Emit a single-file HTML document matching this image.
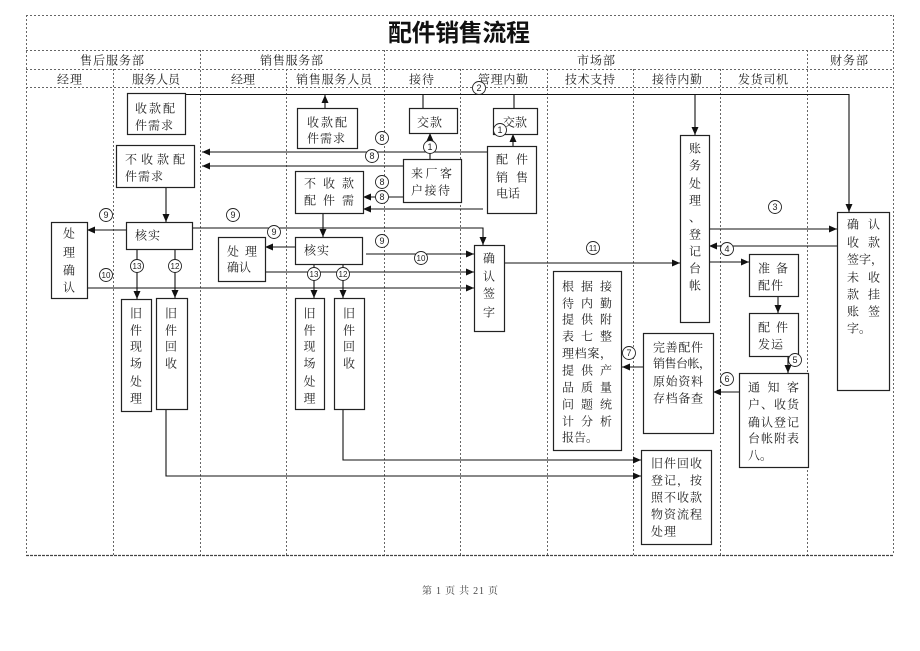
<!DOCTYPE html>
<html>
<head>
<meta charset="utf-8">
<style>
html,body{margin:0;padding:0;background:#fff;}
body{width:920px;height:651px;overflow:hidden;}
svg{display:block;}
.t{font-family:"Liberation Serif","Noto Serif CJK SC",serif;font-size:12px;fill:#222;}
.h{font-family:"Liberation Serif","Noto Serif CJK SC",serif;font-size:12px;fill:#222;}
.ttl{font-family:"Liberation Sans","Noto Sans CJK SC",sans-serif;font-size:24px;font-weight:bold;fill:#111;}
.n{font-family:"Liberation Sans",sans-serif;font-size:9px;fill:#222;text-anchor:middle;}
.n2{font-family:"Liberation Sans",sans-serif;font-size:8px;fill:#222;text-anchor:middle;}
.vc{font-family:"Liberation Serif","Noto Serif CJK SC",serif;font-size:12px;fill:#222;text-anchor:middle;}
.ft{font-family:"Liberation Serif","Noto Serif CJK SC",serif;font-size:10px;fill:#444;}
</style>
</head>
<body>
<svg width="920" height="651" viewBox="0 0 920 651" xmlns="http://www.w3.org/2000/svg">
<defs>
<marker id="a" markerWidth="8" markerHeight="7" refX="8" refY="3.5" orient="auto" markerUnits="userSpaceOnUse">
<path d="M0,0 L8,3.5 L0,7 z" fill="#111"/>
</marker>
</defs>

<!-- frame and grid -->
<g stroke="#666" stroke-width="1" stroke-dasharray="2,2" fill="none">
<line x1="26" y1="15.5" x2="893" y2="15.5"/>
<line x1="26.5" y1="15" x2="26.5" y2="555"/>
<line x1="893.5" y1="15" x2="893.5" y2="555"/>
<line x1="26" y1="50.5" x2="893" y2="50.5"/>
<line x1="26" y1="69.5" x2="893" y2="69.5"/>
<line x1="26" y1="87.5" x2="893" y2="87.5"/>
<line x1="200.5" y1="50" x2="200.5" y2="555"/>
<line x1="384.5" y1="50" x2="384.5" y2="555"/>
<line x1="807.5" y1="50" x2="807.5" y2="555"/>
<line x1="113.5" y1="69" x2="113.5" y2="555"/>
<line x1="286.5" y1="69" x2="286.5" y2="555"/>
<line x1="460.5" y1="69" x2="460.5" y2="555"/>
<line x1="547.5" y1="69" x2="547.5" y2="555"/>
<line x1="633.5" y1="69" x2="633.5" y2="555"/>
<line x1="720.5" y1="69" x2="720.5" y2="555"/>
</g>
<line x1="26" y1="555.5" x2="894" y2="555.5" stroke="#444" stroke-width="1.2" stroke-dasharray="3,1"/>

<!-- headers -->
<text class="ttl" x="388" y="41" textLength="142" lengthAdjust="spacing">配件销售流程</text>
<text class="h" x="80" y="64.5" textLength="64" lengthAdjust="spacing">售后服务部</text>
<text class="h" x="260" y="64.5" textLength="63" lengthAdjust="spacing">销售服务部</text>
<text class="h" x="577" y="64.5" textLength="38" lengthAdjust="spacing">市场部</text>
<text class="h" x="830" y="64.5" textLength="38" lengthAdjust="spacing">财务部</text>

<text class="h" x="57" y="83.5" textLength="25" lengthAdjust="spacing">经理</text>
<text class="h" x="132" y="83.5" textLength="48" lengthAdjust="spacing">服务人员</text>
<text class="h" x="231" y="83.5" textLength="24" lengthAdjust="spacing">经理</text>
<text class="h" x="296" y="83.5" textLength="76" lengthAdjust="spacing">销售服务人员</text>
<text class="h" x="409" y="83.5" textLength="25" lengthAdjust="spacing">接待</text>
<text class="h" x="478" y="83.5" textLength="50" lengthAdjust="spacing">管理内勤</text>
<text class="h" x="565" y="83.5" textLength="50" lengthAdjust="spacing">技术支持</text>
<text class="h" x="652" y="83.5" textLength="50" lengthAdjust="spacing">接待内勤</text>
<text class="h" x="738" y="83.5" textLength="50" lengthAdjust="spacing">发货司机</text>

<!-- connectors -->
<g stroke="#111" stroke-width="1.1" fill="none">
<polyline points="185,94.5 849,94.5 849,212" marker-end="url(#a)"/>
<line x1="325" y1="108" x2="325" y2="95" marker-end="url(#a)"/>
<line x1="423" y1="94" x2="423" y2="108"/>
<line x1="514" y1="94" x2="514" y2="108"/>
<line x1="695" y1="95" x2="695" y2="135" marker-end="url(#a)"/>
<line x1="430" y1="159" x2="430" y2="133" marker-end="url(#a)"/>
<line x1="513" y1="146" x2="513" y2="134" marker-end="url(#a)"/>
<line x1="487" y1="152" x2="202" y2="152" marker-end="url(#a)"/>
<line x1="403" y1="166" x2="202" y2="166" marker-end="url(#a)"/>
<line x1="403" y1="197" x2="363" y2="197" marker-end="url(#a)"/>
<line x1="483" y1="209" x2="363" y2="209" marker-end="url(#a)"/>
<line x1="166" y1="187" x2="166" y2="222" marker-end="url(#a)"/>
<line x1="323" y1="213" x2="323" y2="237" marker-end="url(#a)"/>
<line x1="126" y1="230" x2="87" y2="230" marker-end="url(#a)"/>
<polyline points="192,228 483,228 483,245" marker-end="url(#a)"/>
<line x1="295" y1="247" x2="265" y2="247" marker-end="url(#a)"/>
<line x1="366" y1="254" x2="474" y2="254" marker-end="url(#a)"/>
<line x1="265" y1="272" x2="474" y2="272" marker-end="url(#a)"/>
<line x1="87" y1="288" x2="474" y2="288" marker-end="url(#a)"/>
<line x1="137" y1="249" x2="137" y2="299" marker-end="url(#a)"/>
<line x1="175" y1="249" x2="175" y2="298" marker-end="url(#a)"/>
<line x1="314" y1="264" x2="314" y2="298" marker-end="url(#a)"/>
<line x1="343" y1="264" x2="343" y2="298" marker-end="url(#a)"/>
<polyline points="343,409 343,460 641,460" marker-end="url(#a)"/>
<polyline points="166,409 166,476 641,476" marker-end="url(#a)"/>
<line x1="504" y1="263" x2="680" y2="263" marker-end="url(#a)"/>
<line x1="709" y1="229" x2="837" y2="229" marker-end="url(#a)"/>
<line x1="837" y1="246" x2="709" y2="246" marker-end="url(#a)"/>
<line x1="709" y1="262" x2="749" y2="262" marker-end="url(#a)"/>
<line x1="778" y1="296" x2="778" y2="313" marker-end="url(#a)"/>
<line x1="788" y1="356" x2="788" y2="373" marker-end="url(#a)"/>
<line x1="739" y1="392" x2="713" y2="392" marker-end="url(#a)"/>
<line x1="643" y1="367" x2="622" y2="367" marker-end="url(#a)"/>
</g>

<!-- boxes -->
<g stroke="#222" stroke-width="1.2" fill="#fff">
<rect x="127.5" y="93.5" width="58" height="41"/>
<rect x="116.5" y="145.5" width="78" height="42"/>
<rect x="297.5" y="108.5" width="60" height="40"/>
<rect x="295.5" y="171.5" width="68" height="42"/>
<rect x="409.5" y="108.5" width="48" height="25"/>
<rect x="493.5" y="108.5" width="44" height="26"/>
<rect x="403.5" y="159.5" width="58" height="43"/>
<rect x="487.5" y="146.5" width="49" height="67"/>
<rect x="126.5" y="222.5" width="66" height="27"/>
<rect x="51.5" y="222.5" width="36" height="76"/>
<rect x="121.5" y="299.5" width="30" height="112"/>
<rect x="156.5" y="298.5" width="31" height="111"/>
<rect x="218.5" y="237.5" width="47" height="44"/>
<rect x="295.5" y="237.5" width="67" height="27"/>
<rect x="295.5" y="298.5" width="29" height="111"/>
<rect x="334.5" y="298.5" width="30" height="111"/>
<rect x="474.5" y="245.5" width="30" height="86"/>
<rect x="680.5" y="135.5" width="29" height="187"/>
<rect x="837.5" y="212.5" width="52" height="178"/>
<rect x="749.5" y="254.5" width="49" height="42"/>
<rect x="749.5" y="313.5" width="49" height="43"/>
<rect x="739.5" y="373.5" width="69" height="94"/>
<rect x="643.5" y="333.5" width="70" height="100"/>
<rect x="553.5" y="271.5" width="68" height="179"/>
<rect x="641.5" y="450.5" width="70" height="94"/>
</g>

<!-- box text -->
<text class="t" x="135" y="112.5" textLength="40" lengthAdjust="spacing">收款配</text>
<text class="t" x="135" y="129.5" textLength="38" lengthAdjust="spacing">件需求</text>
<text class="t" x="125" y="163.5" textLength="60" lengthAdjust="spacing">不收款配</text>
<text class="t" x="125" y="180.5" textLength="38" lengthAdjust="spacing">件需求</text>
<text class="t" x="307" y="126.5" textLength="40" lengthAdjust="spacing">收款配</text>
<text class="t" x="307" y="142.5" textLength="38" lengthAdjust="spacing">件需求</text>
<text class="t" x="304" y="187.5" textLength="50" lengthAdjust="spacing">不收款</text>
<text class="t" x="304" y="204.5" textLength="50" lengthAdjust="spacing">配件需</text>
<text class="t" x="417" y="126.5" textLength="25" lengthAdjust="spacing">交款</text>
<text class="t" x="503" y="126.5" textLength="24" lengthAdjust="spacing">交款</text>
<text class="t" x="411" y="177.5" textLength="41" lengthAdjust="spacing">来厂客</text>
<text class="t" x="411" y="194.5" textLength="39" lengthAdjust="spacing">户接待</text>
<text class="t" x="496" y="163.5" textLength="32" lengthAdjust="spacing">配件</text>
<text class="t" x="496" y="181.5" textLength="32" lengthAdjust="spacing">销售</text>
<text class="t" x="496" y="197.5" textLength="24" lengthAdjust="spacing">电话</text>
<text class="t" x="135" y="239.5" textLength="25" lengthAdjust="spacing">核实</text>
<text class="t" x="304" y="254.5" textLength="25" lengthAdjust="spacing">核实</text>
<text class="t" x="227" y="255.5" textLength="30" lengthAdjust="spacing">处理</text>
<text class="t" x="227" y="271.5" textLength="24" lengthAdjust="spacing">确认</text>

<!-- vertical texts -->
<g class="vc">
<text x="69" y="237.5">处</text><text x="69" y="256.5">理</text><text x="69" y="274.5">确</text><text x="69" y="291.5">认</text>
<text x="136" y="317.5">旧</text><text x="136" y="334.5">件</text><text x="136" y="350.5">现</text><text x="136" y="367.5">场</text><text x="136" y="385.5">处</text><text x="136" y="402.5">理</text>
<text x="171" y="317.5">旧</text><text x="171" y="334.5">件</text><text x="171" y="350.5">回</text><text x="171" y="367.5">收</text>
<text x="309.5" y="317.5">旧</text><text x="309.5" y="334.5">件</text><text x="309.5" y="350.5">现</text><text x="309.5" y="367.5">场</text><text x="309.5" y="385.5">处</text><text x="309.5" y="402.5">理</text>
<text x="349" y="317.5">旧</text><text x="349" y="334.5">件</text><text x="349" y="350.5">回</text><text x="349" y="367.5">收</text>
<text x="489" y="262.5">确</text><text x="489" y="280.5">认</text><text x="489" y="297.5">签</text><text x="489" y="316.5">字</text>
<text x="695" y="152.5">账</text><text x="695" y="169.5">务</text><text x="695" y="187.5">处</text><text x="695" y="204.5">理</text><text x="695" y="221.5">、</text><text x="695" y="238.5">登</text><text x="695" y="255.5">记</text><text x="695" y="272.5">台</text><text x="695" y="289.5">帐</text>
</g>

<text class="t" x="847" y="228.5" textLength="33" lengthAdjust="spacing">确认</text>
<text class="t" x="847" y="246.5" textLength="33" lengthAdjust="spacing">收款</text>
<text class="t" x="847" y="263.5">签字，</text>
<text class="t" x="847" y="281.5" textLength="33" lengthAdjust="spacing">未收</text>
<text class="t" x="847" y="298.5" textLength="33" lengthAdjust="spacing">款挂</text>
<text class="t" x="847" y="315.5" textLength="33" lengthAdjust="spacing">账签</text>
<text class="t" x="847" y="332.5">字。</text>

<text class="t" x="758" y="272.5" textLength="30" lengthAdjust="spacing">准备</text>
<text class="t" x="758" y="289.5" textLength="25" lengthAdjust="spacing">配件</text>
<text class="t" x="758" y="331.5" textLength="30" lengthAdjust="spacing">配件</text>
<text class="t" x="758" y="348.5" textLength="25" lengthAdjust="spacing">发运</text>

<text class="t" x="748" y="391.5" textLength="51" lengthAdjust="spacing">通知客</text>
<text class="t" x="748" y="408.5" textLength="51" lengthAdjust="spacing">户、收货</text>
<text class="t" x="748" y="426.5" textLength="51" lengthAdjust="spacing">确认登记</text>
<text class="t" x="748" y="442.5" textLength="51" lengthAdjust="spacing">台帐附表</text>
<text class="t" x="748" y="459.5">八。</text>

<text class="t" x="653" y="351.5" textLength="50" lengthAdjust="spacing">完善配件</text>
<text class="t" x="653" y="367.5" textLength="58" lengthAdjust="spacing">销售台帐，</text>
<text class="t" x="653" y="385.5" textLength="50" lengthAdjust="spacing">原始资料</text>
<text class="t" x="653" y="402.5" textLength="50" lengthAdjust="spacing">存档备查</text>

<text class="t" x="562" y="290.5" textLength="50" lengthAdjust="spacing">根据接</text>
<text class="t" x="562" y="307.5" textLength="50" lengthAdjust="spacing">待内勤</text>
<text class="t" x="562" y="323.5" textLength="50" lengthAdjust="spacing">提供附</text>
<text class="t" x="562" y="340.5" textLength="50" lengthAdjust="spacing">表七整</text>
<text class="t" x="562" y="357.5" textLength="50" lengthAdjust="spacing">理档案，</text>
<text class="t" x="562" y="374.5" textLength="50" lengthAdjust="spacing">提供产</text>
<text class="t" x="562" y="391.5" textLength="50" lengthAdjust="spacing">品质量</text>
<text class="t" x="562" y="408.5" textLength="50" lengthAdjust="spacing">问题统</text>
<text class="t" x="562" y="425.5" textLength="50" lengthAdjust="spacing">计分析</text>
<text class="t" x="562" y="441.5">报告。</text>

<text class="t" x="651" y="467.5" textLength="51" lengthAdjust="spacing">旧件回收</text>
<text class="t" x="651" y="484.5" textLength="51" lengthAdjust="spacing">登记，按</text>
<text class="t" x="651" y="501.5" textLength="51" lengthAdjust="spacing">照不收款</text>
<text class="t" x="651" y="518.5" textLength="51" lengthAdjust="spacing">物资流程</text>
<text class="t" x="651" y="535.5" textLength="25" lengthAdjust="spacing">处理</text>

<!-- circled numbers -->
<g stroke="#222" stroke-width="0.9" fill="#fff">
<circle cx="430" cy="147" r="6.5"/>
<circle cx="500" cy="130" r="6.5"/>
<circle cx="479" cy="88" r="6.5"/>
<circle cx="775" cy="207" r="6.5"/>
<circle cx="727" cy="249" r="6.5"/>
<circle cx="795" cy="360" r="6.5"/>
<circle cx="727" cy="379" r="6.5"/>
<circle cx="629" cy="353" r="6.5"/>
<circle cx="382" cy="138" r="6.5"/>
<circle cx="372" cy="156" r="6.5"/>
<circle cx="382" cy="182" r="6.5"/>
<circle cx="382" cy="197" r="6.5"/>
<circle cx="106" cy="215" r="6.5"/>
<circle cx="233" cy="215" r="6.5"/>
<circle cx="274" cy="232" r="6.5"/>
<circle cx="382" cy="241" r="6.5"/>
<circle cx="106" cy="275" r="6.5"/>
<circle cx="421" cy="258" r="6.5"/>
<circle cx="593" cy="248" r="6.5"/>
<circle cx="137" cy="266" r="6.5"/>
<circle cx="175" cy="266" r="6.5"/>
<circle cx="314" cy="274" r="6.5"/>
<circle cx="343" cy="274" r="6.5"/>
</g>
<text class="n" x="430" y="150.2">1</text>
<text class="n" x="500" y="133.2">1</text>
<text class="n" x="479" y="91.2">2</text>
<text class="n" x="775" y="210.2">3</text>
<text class="n" x="727" y="252.2">4</text>
<text class="n" x="795" y="363.2">5</text>
<text class="n" x="727" y="382.2">6</text>
<text class="n" x="629" y="356.2">7</text>
<text class="n" x="382" y="141.2">8</text>
<text class="n" x="372" y="159.2">8</text>
<text class="n" x="382" y="185.2">8</text>
<text class="n" x="382" y="200.2">8</text>
<text class="n" x="106" y="218.2">9</text>
<text class="n" x="233" y="218.2">9</text>
<text class="n" x="274" y="235.2">9</text>
<text class="n" x="382" y="244.2">9</text>
<text class="n2" x="106" y="277.8">10</text>
<text class="n2" x="421" y="260.8">10</text>
<text class="n2" x="593" y="250.8">11</text>
<text class="n2" x="137" y="268.8">13</text>
<text class="n2" x="175" y="268.8">12</text>
<text class="n2" x="314" y="276.8">13</text>
<text class="n2" x="343" y="276.8">12</text>

<!-- footer -->
<text class="ft" x="422" y="594" textLength="76" lengthAdjust="spacing">第 1 页 共 21 页</text>
</svg>
</body>
</html>
